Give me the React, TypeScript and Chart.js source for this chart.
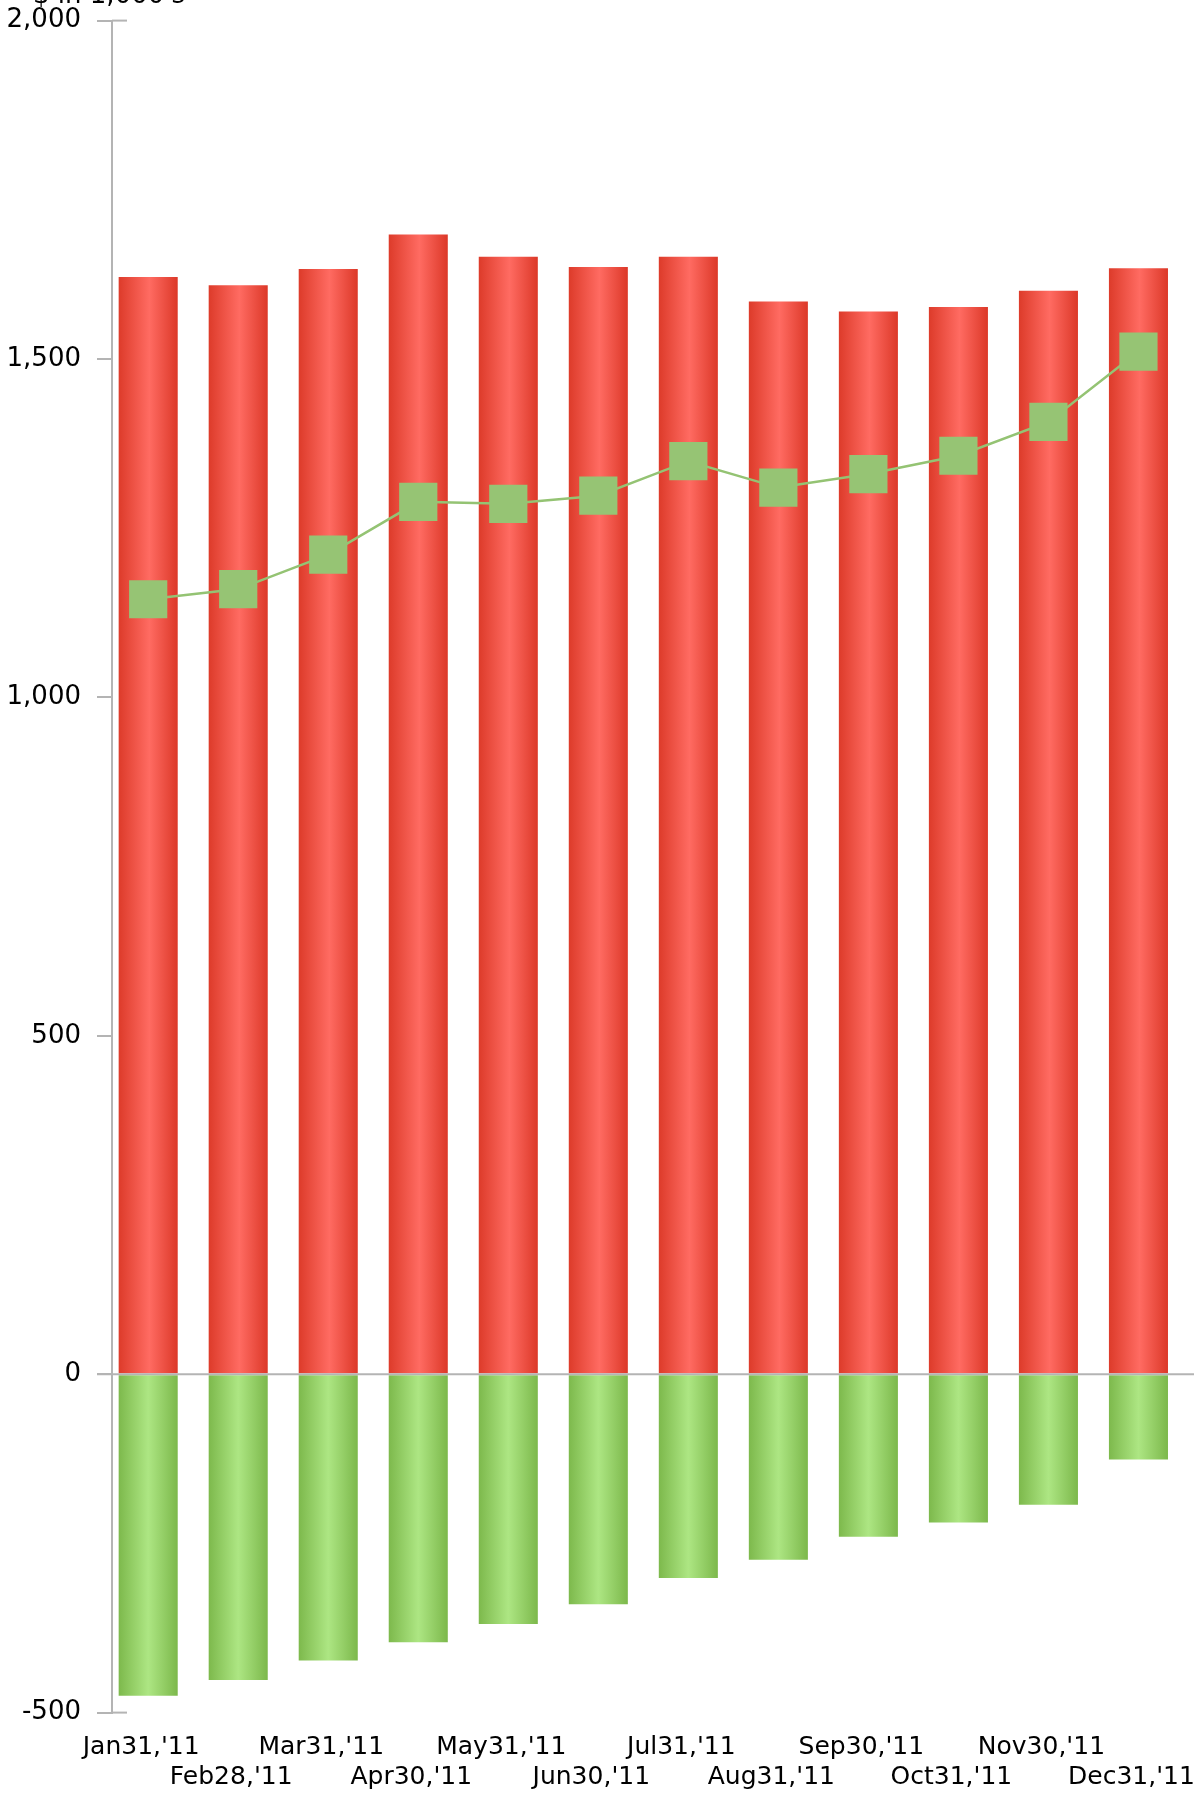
import React, { useEffect, useRef } from "react";
import { Chart, registerables } from "chart.js";

Chart.register(...registerables);

const categories = [
  "Jan31,'11", "Feb28,'11", "Mar31,'11", "Apr30,'11", "May31,'11", "Jun30,'11",
  "Jul31,'11", "Aug31,'11", "Sep30,'11", "Oct31,'11", "Nov30,'11", "Dec31,'11",
];
const positiveValues = [1621, 1609, 1633, 1684, 1651, 1636, 1651, 1585, 1570, 1577, 1601, 1634];
const negativeValues = [-475, -452, -423, -396, -369, -340, -301, -274, -240, -219, -193, -126];
const lineValues = [1145, 1160, 1211, 1289, 1286, 1298, 1349, 1310, 1330, 1357, 1407, 1511];
const yTicks = [-500, 0, 500, 1000, 1500, 2000];
const axisTitle = "$ in 1,000's";

const FONT = '"DejaVu Sans", "Liberation Sans", sans-serif';
const AXIS_GRAY = "#b4b4b4";
const BAR_PCT = 0.656;

function gradientFor(ctx: any, stops: [number, string][]) {
  const chart = ctx.chart;
  const xs = chart.scales && chart.scales.x;
  if (!xs || !chart.chartArea || ctx.dataIndex === undefined) return stops[1][1];
  const cx = xs.getPixelForValue(ctx.dataIndex);
  const step = Math.abs(xs.getPixelForValue(1) - xs.getPixelForValue(0));
  const half = (step * BAR_PCT) / 2;
  const g = chart.ctx.createLinearGradient(cx - half, 0, cx + half, 0);
  stops.forEach(([o, c]) => g.addColorStop(o, c));
  return g;
}

const redStops: [number, string][] = [
  [0, "#dd3b2a"],
  [0.52, "#ff6b62"],
  [1, "#dc3828"],
];
const greenStops: [number, string][] = [
  [0, "#7db94c"],
  [0.5, "#ade683"],
  [1, "#7cb84b"],
];

const decorPlugin = {
  id: "decor",
  afterDatasetsDraw(chart: any) {
    const { ctx, chartArea, scales } = chart;
    const y = scales.y;
    ctx.save();
    ctx.strokeStyle = AXIS_GRAY;
    ctx.lineWidth = 2;
    const y0 = y.getPixelForValue(0);
    ctx.beginPath();
    ctx.moveTo(chartArea.left - 15, y0);
    ctx.lineTo(chartArea.right, y0);
    ctx.stroke();
    for (const v of [yTicks[0], yTicks[yTicks.length - 1]]) {
      const py = y.getPixelForValue(v);
      ctx.beginPath();
      ctx.moveTo(chartArea.left, py);
      ctx.lineTo(chartArea.left + 15, py);
      ctx.stroke();
    }
    ctx.restore();
  },
  afterDraw(chart: any) {
    const { ctx, chartArea } = chart;
    ctx.save();
    ctx.font = `26px ${FONT}`;
    ctx.fillStyle = "#000";
    ctx.textAlign = "center";
    ctx.textBaseline = "alphabetic";
    ctx.fillText(axisTitle, chartArea.left - 3, 3);
    ctx.restore();
  },
};

export default function App() {
  const ref = useRef<HTMLCanvasElement | null>(null);

  useEffect(() => {
    if (!ref.current) return;
    const chart = new Chart(ref.current, {
      type: "bar",
      data: {
        datasets: [
          {
            type: "line",
            label: "line",
            data: lineValues.map((v, i) => ({ x: i, y: v })),
            borderColor: "#94c373",
            borderWidth: 2.5,
            pointStyle: "rect",
            pointRadius: 27,
            pointHoverRadius: 27,
            pointBackgroundColor: "#96c474",
            pointBorderWidth: 0,
            tension: 0,
            order: 0,
          } as any,
          {
            type: "bar",
            label: "positive",
            data: positiveValues.map((v, i) => ({ x: i, y: v })),
            backgroundColor: (c: any) => gradientFor(c, redStops),
            borderWidth: 0,
            barPercentage: BAR_PCT,
            categoryPercentage: 1,
            order: 1,
          } as any,
          {
            type: "bar",
            label: "negative",
            data: negativeValues.map((v, i) => ({ x: i, y: v })),
            backgroundColor: (c: any) => gradientFor(c, greenStops),
            borderWidth: 0,
            barPercentage: BAR_PCT,
            categoryPercentage: 1,
            order: 1,
          } as any,
        ],
      },
      options: {
        responsive: false,
        maintainAspectRatio: false,
        animation: false,
        devicePixelRatio: 1,
        events: [],
        layout: { autoPadding: false, padding: { top: 20.6, right: 4, left: 0, bottom: 0 } },
        plugins: {
          legend: { display: false },
          tooltip: { enabled: false },
        },
        scales: {
          x: {
            type: "linear",
            min: -0.402,
            max: 11.617,
            bounds: "data",
            offset: false,
            stacked: true,
            grid: { display: false, drawTicks: false, offset: false },
            border: { display: false },
            afterBuildTicks: (s: any) => {
              s.ticks = categories.map((_, i) => ({ value: i }));
            },
            afterFit: (s: any) => {
              s.height = 83.4;
              s.paddingLeft = 0;
              s.paddingRight = 0;
            },
            ticks: {
              autoSkip: false,
              maxRotation: 0,
              minRotation: 0,
              padding: 20,
              labelOffset: -7,
              color: "#000",
              font: { family: FONT, size: 25, lineHeight: 30 / 25 },
              callback: (v: any) => {
                const i = Math.round(Number(v));
                const lab = categories[i] ?? "";
                return i % 2 === 0 ? [lab, ""] : ["", lab];
              },
            },
          } as any,
          y: {
            min: -500,
            max: 2000,
            stacked: true,
            afterBuildTicks: (s: any) => {
              s.ticks = yTicks.map((v) => ({ value: v }));
            },
            afterFit: (s: any) => {
              s.width = 112;
              s.paddingTop = 0;
              s.paddingBottom = 0;
            },
            grid: {
              display: true,
              drawOnChartArea: false,
              drawTicks: true,
              tickLength: 15,
              tickColor: AXIS_GRAY,
              tickWidth: 2,
              color: AXIS_GRAY,
              lineWidth: 2,
            },
            border: { display: true, color: AXIS_GRAY, width: 2 },
            ticks: {
              padding: 16,
              color: "#000",
              font: { family: FONT, size: 26 },
              callback: (v: any) => Number(v).toLocaleString("en-US"),
            },
          } as any,
        },
      },
      plugins: [decorPlugin],
    });
    return () => chart.destroy();
  }, []);

  return (
    <div style={{ position: "absolute", left: 0, top: 0, width: 1198, height: 1796, background: "#fff" }}>
      <canvas ref={ref} width={1198} height={1796} style={{ display: "block", width: 1198, height: 1796 }} />
    </div>
  );
}
